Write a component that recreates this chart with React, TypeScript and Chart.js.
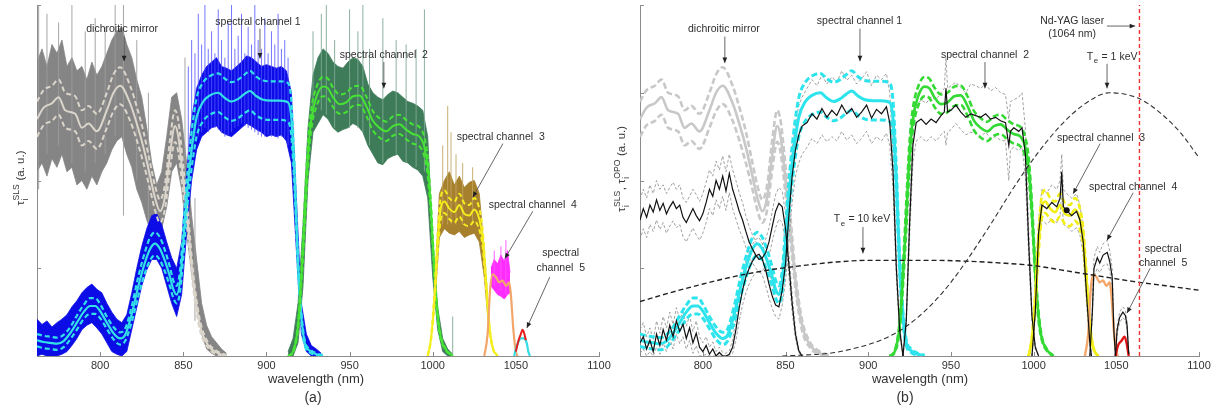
import React, { useEffect, useRef } from "react";
import { Chart, registerables } from "chart.js";

Chart.register(...registerables);

const FONT = '"Liberation Sans", Arial, Helvetica, sans-serif';
Chart.defaults.font.family = FONT;

// ---------------- axes ----------------
const X_MIN = 762;
const X_MAX = 1100;
const Y_MIN = 0;
const Y_MAX = 4;
const X_TICKS = [800, 850, 900, 950, 1000, 1050, 1100];
const Y_TICKS = [0, 1, 2, 3, 4];

// Nd-YAG laser line
const ND_YAG_X = [1064, 1064];
const ND_YAG_Y = [0, 4];

// ---------------- dichroic mirror (SLS) ----------------
const DM_X = [762, 766, 771, 775, 779, 785, 789, 793, 798, 804, 808, 812, 818, 822, 826, 830, 833, 836, 839, 842, 845, 847, 850, 853, 856, 860, 865, 870, 876];
const DM_MEAN = [2.7, 2.83, 2.88, 2.95, 2.8, 2.76, 2.6, 2.65, 2.56, 2.8, 3.0, 3.08, 2.88, 2.65, 2.38, 2.05, 1.8, 1.65, 1.82, 2.3, 2.62, 2.5, 2.0, 1.45, 0.85, 0.35, 0.12, 0.04, 0.0];
const DM_HI = [2.9, 3.03, 3.08, 3.15, 3.0, 2.96, 2.8, 2.85, 2.76, 3.0, 3.21, 3.29, 3.08, 2.84, 2.56, 2.2, 1.94, 1.78, 1.96, 2.47, 2.8, 2.68, 2.16, 1.58, 0.94, 0.41, 0.15, 0.06, 0.01];
const DM_LO = [2.5, 2.63, 2.68, 2.75, 2.6, 2.56, 2.4, 2.45, 2.36, 2.6, 2.79, 2.87, 2.68, 2.46, 2.2, 1.9, 1.66, 1.52, 1.68, 2.13, 2.44, 2.32, 1.84, 1.32, 0.76, 0.29, 0.09, 0.02, 0.0];

const DM_NOISE_X = [762, 765, 768, 771, 774, 777, 780, 783, 786, 789, 792, 795, 798, 801, 804, 807, 810, 813, 816, 819, 822, 825, 828, 831, 834, 837, 840, 843, 846, 849, 852, 855, 858, 861, 864, 867, 870, 873, 876];
const DM_NOISE_HI = [3.35, 3.5, 3.3, 3.55, 3.45, 3.6, 3.3, 3.4, 3.25, 3.3, 3.15, 3.35, 3.2, 3.3, 3.45, 3.6, 3.7, 3.75, 3.55, 3.4, 3.15, 2.95, 2.6, 2.2, 1.95, 2.1, 2.5, 2.95, 3.0, 2.7, 2.2, 1.6, 1.1, 0.6, 0.35, 0.22, 0.15, 0.08, 0.03];
const DM_NOISE_LO = [2.1, 2.2, 2.05, 2.25, 2.15, 2.3, 2.1, 2.15, 1.95, 2.0, 1.9, 2.05, 1.95, 2.1, 2.2, 2.35, 2.45, 2.5, 2.3, 2.15, 1.9, 1.75, 1.55, 1.4, 1.35, 1.45, 1.7, 2.1, 2.2, 1.9, 1.4, 0.95, 0.55, 0.25, 0.08, 0.03, 0.0, 0.0, 0.0];
const DM_SPK_X = [763, 768, 775, 783, 791, 797, 803, 809, 814, 822, 829, 851, 857];
const DM_SPK_LO = [1.9, 2.3, 2.4, 2.2, 2.1, 2.2, 2.3, 2.5, 1.6, 2.0, 1.5, 1.5, 0.4];
const DM_SPK_HI = [4.0, 3.9, 3.8, 4.0, 3.7, 3.85, 3.75, 4.0, 4.0, 3.6, 3.0, 3.4, 1.8];

// ---------------- spectral channel 1 (SLS, cyan) ----------------
const C1_X = [762, 766, 770, 774, 778, 782, 786, 790, 794, 797, 800, 804, 808, 812, 815, 819, 823, 827, 830, 833, 836, 839, 842, 844, 846, 848, 850, 852, 855, 858, 862, 866, 871, 875, 879, 883, 887, 890, 894, 898, 903, 908, 913, 915, 917, 919, 921, 923, 926, 930, 934];
const C1_MEAN = [0.18, 0.16, 0.15, 0.14, 0.17, 0.26, 0.38, 0.5, 0.57, 0.57, 0.51, 0.38, 0.26, 0.2, 0.24, 0.48, 0.8, 1.07, 1.22, 1.28, 1.22, 1.08, 0.9, 0.76, 0.7, 0.85, 1.3, 1.8, 2.35, 2.72, 2.9, 2.97, 3.0, 2.94, 2.9, 2.93, 2.99, 3.02, 2.96, 2.92, 2.91, 2.91, 2.89, 2.7, 2.0, 1.05, 0.45, 0.15, 0.06, 0.02, 0.0];
const C1_HI = [0.25, 0.23, 0.22, 0.21, 0.24, 0.33, 0.46, 0.58, 0.66, 0.66, 0.59, 0.45, 0.33, 0.27, 0.31, 0.57, 0.91, 1.19, 1.35, 1.41, 1.35, 1.2, 1.01, 0.86, 0.8, 0.97, 1.46, 1.98, 2.56, 2.94, 3.12, 3.19, 3.22, 3.16, 3.12, 3.15, 3.21, 3.25, 3.18, 3.14, 3.13, 3.13, 3.11, 2.9, 2.14, 1.13, 0.5, 0.18, 0.08, 0.03, 0.01];
const C1_LO = [0.11, 0.09, 0.08, 0.07, 0.1, 0.19, 0.3, 0.42, 0.48, 0.48, 0.43, 0.31, 0.19, 0.13, 0.17, 0.39, 0.69, 0.95, 1.09, 1.15, 1.09, 0.96, 0.79, 0.66, 0.6, 0.73, 1.14, 1.62, 2.14, 2.5, 2.68, 2.75, 2.78, 2.72, 2.68, 2.71, 2.77, 2.8, 2.74, 2.7, 2.69, 2.69, 2.67, 2.5, 1.86, 0.97, 0.4, 0.12, 0.04, 0.01, 0.0];

const C1_NOISE_X = [762, 765, 768, 771, 774, 777, 780, 783, 786, 789, 792, 795, 798, 801, 804, 807, 810, 813, 816, 819, 822, 825, 828, 831, 834, 837, 840, 843, 846, 849, 852, 855, 858, 861, 864, 867, 870, 873, 876, 879, 882, 885, 888, 891, 894, 897, 900, 903, 906, 909, 912, 915, 918, 921, 924, 927, 930, 933];
const C1_NOISE_HI = [0.42, 0.36, 0.4, 0.33, 0.38, 0.42, 0.47, 0.56, 0.63, 0.72, 0.78, 0.82, 0.76, 0.72, 0.6, 0.5, 0.42, 0.38, 0.47, 0.72, 1.0, 1.25, 1.45, 1.6, 1.62, 1.5, 1.3, 1.12, 1.0, 1.3, 2.1, 2.7, 3.05, 3.2, 3.3, 3.35, 3.4, 3.3, 3.28, 3.25, 3.3, 3.35, 3.42, 3.4, 3.35, 3.3, 3.32, 3.3, 3.28, 3.3, 3.25, 3.0, 1.8, 0.6, 0.25, 0.12, 0.08, 0.03];
const C1_NOISE_LO = [0.0, 0.02, 0.0, 0.0, 0.0, 0.02, 0.05, 0.12, 0.2, 0.3, 0.35, 0.38, 0.32, 0.25, 0.15, 0.05, 0.02, 0.0, 0.05, 0.3, 0.55, 0.8, 0.98, 1.1, 1.1, 1.0, 0.8, 0.6, 0.45, 0.7, 1.4, 2.0, 2.35, 2.5, 2.55, 2.6, 2.62, 2.55, 2.52, 2.5, 2.55, 2.6, 2.65, 2.62, 2.58, 2.55, 2.5, 2.52, 2.5, 2.52, 2.45, 2.2, 1.2, 0.25, 0.05, 0.0, 0.0, 0.0];
const C1_SPK_X = [853, 855, 857, 859, 861, 863, 865, 867, 869, 871, 873, 875, 877, 879, 881, 883, 885, 887, 889, 891, 893, 895, 897, 899, 901, 903, 905, 907, 909, 911, 913];
const C1_SPK_LO = [2.2, 2.4, 2.45, 2.5, 2.55, 2.6, 2.55, 2.6, 2.6, 2.58, 2.55, 2.5, 2.52, 2.55, 2.6, 2.62, 2.65, 2.62, 2.6, 2.58, 2.55, 2.52, 2.5, 2.5, 2.52, 2.5, 2.5, 2.48, 2.5, 2.48, 2.4];
const C1_SPK_HI = [3.3, 3.6, 3.45, 3.9, 3.55, 4.0, 3.5, 3.7, 3.45, 3.95, 3.6, 3.4, 3.8, 4.0, 3.5, 3.65, 3.9, 3.45, 3.75, 3.55, 4.0, 3.6, 3.5, 3.85, 3.45, 3.7, 3.55, 3.9, 3.5, 3.6, 3.4];

// ---------------- spectral channel 2 (SLS, green) ----------------
const C2_X = [913, 916, 919, 921, 923, 925, 927, 930, 934, 937, 940, 944, 948, 952, 956, 960, 964, 968, 972, 976, 980, 984, 988, 992, 995, 997, 999, 1001, 1003, 1005, 1008, 1012];
const C2_MEAN = [0.0, 0.05, 0.35, 0.9, 1.6, 2.3, 2.7, 2.95, 3.07, 3.05, 2.95, 2.87, 2.89, 2.96, 2.97, 2.85, 2.68, 2.6, 2.56, 2.62, 2.64, 2.58, 2.53, 2.5, 2.38, 2.15, 1.65, 0.95, 0.45, 0.2, 0.07, 0.0];
const C2_HI = [0.0, 0.06, 0.4, 1.0, 1.75, 2.45, 2.82, 3.06, 3.18, 3.16, 3.06, 2.98, 3.0, 3.07, 3.08, 2.96, 2.79, 2.71, 2.67, 2.73, 2.75, 2.69, 2.64, 2.61, 2.49, 2.26, 1.74, 1.02, 0.5, 0.22, 0.08, 0.0];
const C2_LO = [0.0, 0.04, 0.3, 0.8, 1.45, 2.15, 2.58, 2.84, 2.96, 2.94, 2.84, 2.76, 2.78, 2.85, 2.86, 2.74, 2.57, 2.49, 2.45, 2.51, 2.53, 2.47, 2.42, 2.39, 2.27, 2.04, 1.56, 0.88, 0.4, 0.18, 0.06, 0.0];

const C2_NOISE_X = [913, 916, 919, 922, 925, 928, 931, 934, 937, 940, 943, 946, 949, 952, 955, 958, 961, 964, 967, 970, 973, 976, 979, 982, 985, 988, 991, 994, 997, 1000, 1003, 1006, 1009, 1012];
const C2_NOISE_HI = [0.05, 0.2, 0.6, 1.5, 2.6, 3.2, 3.4, 3.5, 3.45, 3.35, 3.3, 3.28, 3.35, 3.4, 3.38, 3.3, 3.1, 3.0, 2.95, 2.92, 2.98, 3.02, 3.0, 2.95, 2.9, 2.88, 2.85, 2.8, 2.5, 1.3, 0.55, 0.2, 0.08, 0.02];
const C2_NOISE_LO = [0.0, 0.0, 0.15, 0.8, 2.0, 2.55, 2.65, 2.75, 2.7, 2.6, 2.55, 2.58, 2.6, 2.65, 2.62, 2.55, 2.4, 2.3, 2.2, 2.18, 2.25, 2.28, 2.3, 2.22, 2.2, 2.15, 2.12, 2.05, 1.8, 0.9, 0.3, 0.05, 0.0, 0.0];
const C2_SPK_X = [928, 933, 936, 941, 950, 955, 958, 962, 970, 978, 984, 990, 995, 1012];
const C2_SPK_LO = [2.7, 2.8, 2.75, 2.6, 2.6, 2.6, 2.55, 2.4, 2.2, 2.3, 2.2, 2.15, 2.1, 0.0];
const C2_SPK_HI = [3.7, 3.9, 4.0, 3.6, 3.95, 3.7, 4.0, 3.5, 3.85, 3.6, 3.55, 3.5, 3.95, 0.45];

// ---------------- spectral channel 3 (SLS, yellow) ----------------
const C3_X = [997, 999, 1001, 1003, 1005, 1007, 1010, 1013, 1016, 1019, 1022, 1025, 1028, 1030, 1032, 1034, 1036, 1039];
const C3_MEAN = [0.0, 0.2, 0.65, 1.3, 1.7, 1.76, 1.68, 1.64, 1.72, 1.62, 1.6, 1.67, 1.56, 1.35, 0.85, 0.35, 0.1, 0.0];
const C3_HI = [0.0, 0.22, 0.72, 1.42, 1.83, 1.89, 1.8, 1.76, 1.85, 1.74, 1.72, 1.8, 1.68, 1.45, 0.92, 0.38, 0.11, 0.0];
const C3_LO = [0.0, 0.18, 0.58, 1.18, 1.57, 1.63, 1.56, 1.52, 1.59, 1.5, 1.48, 1.54, 1.44, 1.25, 0.78, 0.32, 0.09, 0.0];

const C3_NOISE_X = [1001, 1004, 1007, 1010, 1013, 1016, 1019, 1022, 1025, 1028, 1031, 1034];
const C3_NOISE_HI = [0.7, 1.85, 2.0, 2.1, 1.95, 2.05, 1.92, 1.98, 2.0, 1.85, 1.2, 0.4];
const C3_NOISE_LO = [0.55, 1.35, 1.45, 1.4, 1.38, 1.42, 1.35, 1.38, 1.4, 1.3, 0.9, 0.25];
const C3_SPK_X = [1006, 1009, 1011, 1014, 1018, 1024];
const C3_SPK_LO = [1.5, 1.5, 1.5, 1.5, 1.5, 1.5];
const C3_SPK_HI = [2.4, 2.85, 2.55, 2.3, 2.2, 2.15];

// ---------------- spectral channel 4 (SLS, orange) ----------------
const C4_X = [1031, 1033, 1034.5, 1036, 1038, 1040, 1042, 1044, 1046, 1047, 1048.5, 1050, 1051];
const C4_MEAN = [0.0, 0.25, 0.75, 0.93, 0.9, 0.84, 0.86, 0.8, 0.84, 0.7, 0.3, 0.05, 0.0];
const C4_NOISE_X = [1035, 1037, 1039, 1041, 1043, 1045, 1046.5];
const C4_NOISE_HI = [1.0, 1.1, 1.05, 1.15, 1.08, 1.2, 0.95];
const C4_NOISE_LO = [0.8, 0.75, 0.7, 0.68, 0.65, 0.7, 0.72];
const C4_SPK_X = [1037, 1041, 1044];
const C4_SPK_LO = [0.8, 0.75, 0.7];
const C4_SPK_HI = [1.2, 1.25, 1.32];

// ---------------- spectral channel 5 ----------------
const C5A_X = [1049, 1050, 1051.5, 1053, 1055, 1056.5, 1057.5, 1058.5];
const C5A_CYAN = [0.0, 0.08, 0.16, 0.2, 0.2, 0.15, 0.05, 0.0];
const C5A_RED_X = [1050, 1051.5, 1053, 1054, 1055, 1056];
const C5A_RED = [0.05, 0.17, 0.25, 0.3, 0.26, 0.18];
const C5B_X = [1049.5, 1051, 1053, 1055, 1056.5, 1057.5];
const C5B_RED = [0.0, 0.12, 0.17, 0.22, 0.12, 0.0];

// ---------------- OPO measurements (panel b, black) ----------------
const OPO_DM_X = [762, 764, 766, 768, 770, 772, 774, 776, 778, 780, 782, 784, 786, 788, 790, 792, 794, 796, 798, 800, 802, 804, 806, 808, 810, 812, 814, 816, 818, 820, 822, 824, 826, 828, 830, 832, 834, 836, 838, 840, 842, 844, 846, 848, 850, 852, 854, 856, 858, 860];
const OPO_DM = [1.55, 1.68, 1.58, 1.72, 1.64, 1.78, 1.66, 1.74, 1.62, 1.7, 1.76, 1.68, 1.72, 1.58, 1.52, 1.6, 1.68, 1.6, 1.54, 1.62, 1.75, 1.9, 1.82, 2.0, 1.9, 2.05, 1.88, 2.08, 1.9, 1.78, 1.65, 1.55, 1.42, 1.3, 1.22, 1.15, 1.1, 1.12, 1.18, 1.3, 1.48, 1.65, 1.74, 1.7, 1.45, 1.05, 0.6, 0.25, 0.06, 0.0];
const OPO_DM_HI = [1.78, 1.9, 1.8, 1.95, 1.85, 2.0, 1.9, 1.95, 1.85, 1.92, 1.98, 1.9, 1.95, 1.8, 1.75, 1.82, 1.9, 1.84, 1.76, 1.85, 1.98, 2.12, 2.05, 2.22, 2.12, 2.28, 2.1, 2.3, 2.12, 2.0, 1.86, 1.75, 1.6, 1.48, 1.38, 1.3, 1.25, 1.27, 1.33, 1.46, 1.65, 1.84, 1.92, 1.88, 1.62, 1.18, 0.7, 0.3, 0.08, 0.0];
const OPO_DM_LO = [1.32, 1.45, 1.35, 1.5, 1.42, 1.55, 1.44, 1.52, 1.4, 1.48, 1.54, 1.46, 1.5, 1.36, 1.3, 1.38, 1.46, 1.38, 1.32, 1.4, 1.52, 1.68, 1.6, 1.78, 1.68, 1.82, 1.66, 1.86, 1.68, 1.56, 1.44, 1.35, 1.24, 1.12, 1.06, 1.0, 0.95, 0.97, 1.03, 1.14, 1.31, 1.46, 1.56, 1.52, 1.28, 0.92, 0.5, 0.2, 0.04, 0.0];

const OPO_C1_X = [762, 764, 766, 768, 770, 772, 774, 776, 778, 780, 782, 784, 786, 788, 790, 792, 794, 796, 798, 800, 802, 804, 806, 808, 810, 812, 814, 816, 818, 820, 822, 824, 826, 828, 830, 832, 834, 836, 838, 840, 842, 844, 846, 848, 850, 852, 854, 856, 858, 860, 863, 866, 869, 872, 875, 878, 881, 884, 887, 890, 893, 896, 899, 902, 905, 908, 911, 913, 915, 917, 919, 921];
const OPO_C1 = [0.15, 0.22, 0.08, 0.18, 0.05, 0.25, 0.12, 0.3, 0.18, 0.35, 0.22, 0.4, 0.28, 0.36, 0.2, 0.32, 0.15, 0.26, 0.1, 0.05, 0.12, 0.02, 0.08, 0.0, 0.04, 0.0, 0.0, 0.02, 0.1, 0.3, 0.55, 0.75, 0.9, 1.0, 1.08, 1.14, 1.16, 1.1, 0.98, 0.82, 0.68, 0.58, 0.56, 0.75, 1.05, 1.6, 2.05, 2.35, 2.52, 2.62, 2.66, 2.76, 2.7, 2.82, 2.72, 2.8, 2.74, 2.86, 2.76, 2.82, 2.72, 2.78, 2.86, 2.71, 2.81, 2.76, 2.84, 2.66, 2.1, 1.0, 0.3, 0.0];
const OPO_C1_HI = [0.3, 0.38, 0.22, 0.32, 0.18, 0.4, 0.26, 0.45, 0.32, 0.5, 0.36, 0.55, 0.42, 0.5, 0.34, 0.46, 0.28, 0.4, 0.22, 0.15, 0.22, 0.1, 0.16, 0.05, 0.1, 0.04, 0.03, 0.06, 0.18, 0.42, 0.7, 0.92, 1.08, 1.18, 1.27, 1.33, 1.35, 1.28, 1.15, 0.98, 0.82, 0.72, 0.7, 0.92, 1.25, 1.85, 2.35, 2.65, 2.85, 2.95, 3.05, 3.15, 3.08, 3.2, 3.1, 3.18, 3.12, 3.25, 3.14, 3.2, 3.1, 3.16, 3.24, 3.08, 3.2, 3.15, 3.22, 3.0, 2.3, 1.1, 0.35, 0.0];
const OPO_C1_LO = [0.03, 0.08, 0.0, 0.05, 0.0, 0.1, 0.02, 0.15, 0.05, 0.2, 0.08, 0.25, 0.14, 0.22, 0.08, 0.18, 0.03, 0.12, 0.0, 0.0, 0.02, 0.0, 0.0, 0.0, 0.0, 0.0, 0.0, 0.0, 0.03, 0.18, 0.4, 0.58, 0.72, 0.82, 0.9, 0.95, 0.97, 0.92, 0.8, 0.66, 0.54, 0.45, 0.42, 0.58, 0.85, 1.35, 1.75, 2.05, 2.2, 2.3, 2.38, 2.48, 2.42, 2.52, 2.44, 2.5, 2.45, 2.56, 2.46, 2.52, 2.42, 2.48, 2.56, 2.42, 2.5, 2.45, 2.54, 2.4, 1.9, 0.9, 0.25, 0.0];

const OPO_C2_X = [921, 923, 925, 927, 929, 932, 935, 938, 941, 944, 946, 947, 948, 950, 953, 956, 959, 962, 965, 968, 971, 974, 977, 980, 983, 985, 986, 988, 991, 993, 995, 997, 999, 1001, 1003];
const OPO_C2 = [0.0, 0.4, 1.5, 2.4, 2.66, 2.7, 2.64, 2.7, 2.66, 2.74, 2.78, 3.05, 2.78, 2.8, 2.86, 2.78, 2.72, 2.76, 2.74, 2.72, 2.76, 2.7, 2.72, 2.68, 2.66, 2.4, 2.56, 2.6, 2.56, 2.6, 2.3, 1.3, 0.45, 0.1, 0.0];
const OPO_C2_HI = [0.0, 0.45, 1.65, 2.6, 2.85, 2.92, 2.88, 2.95, 2.92, 3.0, 3.05, 3.4, 3.05, 3.08, 3.12, 3.06, 3.0, 3.1, 3.08, 3.05, 3.1, 3.02, 3.06, 3.0, 2.98, 2.7, 2.9, 2.92, 2.95, 3.0, 2.6, 1.45, 0.5, 0.12, 0.0];
const OPO_C2_LO = [0.0, 0.35, 1.35, 2.2, 2.45, 2.5, 2.44, 2.5, 2.45, 2.52, 2.56, 2.4, 2.55, 2.58, 2.65, 2.58, 2.52, 2.55, 2.54, 2.5, 2.55, 2.48, 2.5, 2.46, 2.45, 2.0, 2.35, 2.38, 2.34, 2.38, 2.05, 1.15, 0.4, 0.08, 0.0];

const OPO_C3_X = [999, 1001, 1003, 1005, 1008, 1011, 1014, 1016, 1017, 1018, 1020, 1023, 1026, 1028, 1030, 1032, 1034, 1035];
const OPO_C3 = [0.0, 0.5, 1.4, 1.72, 1.68, 1.75, 1.7, 1.8, 2.1, 1.7, 1.66, 1.6, 1.65, 1.55, 1.3, 0.7, 0.15, 0.0];
const OPO_C3_HI = [0.0, 0.55, 1.55, 1.9, 1.86, 1.95, 1.9, 2.0, 2.3, 1.9, 1.85, 1.8, 1.85, 1.72, 1.45, 0.8, 0.18, 0.0];
const OPO_C3_LO = [0.0, 0.45, 1.25, 1.55, 1.5, 1.56, 1.52, 1.6, 1.9, 1.5, 1.48, 1.42, 1.46, 1.38, 1.15, 0.6, 0.12, 0.0];
const OPO_DOT_X = [1020];
const OPO_DOT_Y = [1.66];

const OPO_C4_X = [1034, 1035.5, 1036.5, 1038.5, 1040, 1042, 1044.5, 1046, 1047.5, 1048.5, 1049.5];
const OPO_C4 = [0.0, 0.5, 1.0, 1.12, 1.06, 1.15, 1.18, 1.08, 0.9, 0.3, 0.0];
const OPO_C4_HI = [0.0, 0.55, 1.12, 1.25, 1.18, 1.28, 1.32, 1.2, 1.0, 0.35, 0.0];
const OPO_C4_LO = [0.0, 0.45, 0.9, 1.0, 0.95, 1.03, 1.05, 0.97, 0.8, 0.25, 0.0];

const OPO_C5_X = [1049.5, 1050.5, 1052, 1054, 1055.5, 1056.5, 1057.5];
const OPO_C5 = [0.0, 0.3, 0.44, 0.5, 0.46, 0.35, 0.02];
const OPO_C5_HI = [0.0, 0.34, 0.5, 0.56, 0.52, 0.4, 0.03];
const OPO_C5_LO = [0.0, 0.26, 0.38, 0.44, 0.4, 0.3, 0.01];

// ---------------- Thomson spectra ----------------
const TE10_X = [762, 780, 800, 820, 840, 860, 880, 900, 920, 940, 960, 980, 1000, 1020, 1040, 1060, 1080, 1100];
const TE10_Y = [0.62, 0.72, 0.82, 0.91, 0.98, 1.03, 1.07, 1.09, 1.09, 1.09, 1.08, 1.06, 1.03, 0.97, 0.91, 0.85, 0.8, 0.75];
const TE1_X = [848, 860, 870, 880, 890, 900, 910, 920, 930, 940, 950, 960, 974, 988, 1002, 1016, 1030, 1046, 1063, 1076, 1089, 1100];
const TE1_Y = [0.0, 0.01, 0.02, 0.04, 0.08, 0.13, 0.2, 0.3, 0.44, 0.62, 0.84, 1.1, 1.5, 1.92, 2.3, 2.62, 2.86, 3.0, 2.94, 2.78, 2.54, 2.26];

// ---------------- helpers ----------------
type Pt = { x: number; y: number | null };
const pts = (xs: number[], ys: number[]): Pt[] => xs.map((x, i) => ({ x, y: ys[i] }));
const spikes = (xs: number[], lo: number[], hi: number[]): Pt[] =>
  xs.flatMap((x, i) => [
    { x, y: lo[i] },
    { x, y: hi[i] },
    { x, y: null },
  ]);

function line(data: Pt[], color: string, width: number, extra: any = {}) {
  return {
    data,
    borderColor: color,
    backgroundColor: color,
    borderWidth: width,
    pointRadius: 0,
    pointHoverRadius: 0,
    fill: false,
    tension: 0,
    spanGaps: false,
    ...extra,
  };
}
const SMOOTH = { cubicInterpolationMode: "monotone", tension: 0.4 };
function band(xs: number[], hi: number[], lo: number[], color: string) {
  return [
    line(pts(xs, hi), color, 0.8, { fill: "+1", backgroundColor: color }),
    line(pts(xs, lo), color, 0.8),
  ];
}
function triple(xs: number[], mean: number[], hi: number[], lo: number[], color: string, w: number, dash: number[]) {
  return [
    line(pts(xs, hi), color, w, { ...SMOOTH, borderDash: dash }),
    line(pts(xs, lo), color, w, { ...SMOOTH, borderDash: dash }),
    line(pts(xs, mean), color, w, SMOOTH),
  ];
}
function opo(xs: number[], ys: number[], hi: number[], lo: number[]) {
  return {
    dashed: [
      line(pts(xs, hi), "#8a8a8a", 0.8, { borderDash: [3, 2] }),
      line(pts(xs, lo), "#8a8a8a", 0.8, { borderDash: [3, 2] }),
    ],
    solid: line(pts(xs, ys), "#111111", 1.2),
  };
}

type Seg = { t: string; sup?: string; sub?: string };
function richWidth(ctx: CanvasRenderingContext2D, segs: Seg[], size: number) {
  let w = 0;
  for (const s of segs) {
    ctx.font = `${size}px ${FONT}`;
    w += ctx.measureText(s.t).width;
    if (s.sup || s.sub) {
      ctx.font = `${size * 0.75}px ${FONT}`;
      w += Math.max(s.sup ? ctx.measureText(s.sup).width : 0, s.sub ? ctx.measureText(s.sub).width : 0) + 1;
    }
  }
  return w;
}
function drawRich(ctx: CanvasRenderingContext2D, segs: Seg[], x: number, y: number, size: number) {
  ctx.textAlign = "left";
  ctx.textBaseline = "alphabetic";
  for (const s of segs) {
    ctx.font = `${size}px ${FONT}`;
    ctx.fillText(s.t, x, y);
    x += ctx.measureText(s.t).width;
    if (s.sup || s.sub) {
      ctx.font = `${size * 0.75}px ${FONT}`;
      let w = 0;
      if (s.sup) {
        ctx.fillText(s.sup, x + 0.5, y - size * 0.45);
        w = ctx.measureText(s.sup).width;
      }
      if (s.sub) {
        ctx.fillText(s.sub, x + 0.5, y + size * 0.35);
        w = Math.max(w, ctx.measureText(s.sub).width);
      }
      x += w + 1;
    }
  }
}

type Ann = { lines: Seg[][]; x: number; y: number; gap?: number; arrow?: number[] };

const ANN_A: Ann[] = [
  { lines: [[{ t: "dichroitic mirror" }]], x: 813.2, y: 3.74, arrow: [814.4, 3.64, 814.4, 3.36] },
  { lines: [[{ t: "spectral channel 1" }]], x: 894.9, y: 3.82, arrow: [896.1, 3.73, 896.1, 3.39] },
  { lines: [[{ t: "spectral channel  2" }]], x: 970.6, y: 3.44, arrow: [970.6, 3.35, 970.6, 3.05] },
  { lines: [[{ t: "spectral channel  3" }]], x: 1040.9, y: 2.5, arrow: [1042.2, 2.42, 1024.1, 1.81] },
  { lines: [[{ t: "spectral channel  4" }]], x: 1060.2, y: 1.73, arrow: [1060.2, 1.65, 1043.4, 1.11] },
  { lines: [[{ t: "spectral" }], [{ t: "channel  5" }]], x: 1077, y: 1.18, gap: 15, arrow: [1070.4, 0.9, 1056.6, 0.32] },
];
const ANN_B: Ann[] = [
  { lines: [[{ t: "dichroitic mirror" }]], x: 812.7, y: 3.74, arrow: [813.3, 3.64, 813.3, 3.34] },
  { lines: [[{ t: "spectral channel 1" }]], x: 894.7, y: 3.83, arrow: [895, 3.73, 895, 3.36] },
  { lines: [[{ t: "spectral channel  2" }]], x: 970.6, y: 3.44, arrow: [970.6, 3.35, 970.6, 3.05] },
  { lines: [[{ t: "Nd-YAG laser" }], [{ t: "(1064 nm)" }]], x: 1023.3, y: 3.83, gap: 13, arrow: [1044.4, 3.76, 1061.4, 3.76] },
  { lines: [[{ t: "T", sub: "e" }, { t: " = 1 keV" }]], x: 1047.5, y: 3.42, arrow: [1044.4, 3.33, 1044.4, 3.05] },
  { lines: [[{ t: "spectral channel  3" }]], x: 1040.8, y: 2.49, arrow: [1040.2, 2.42, 1023.9, 1.85] },
  { lines: [[{ t: "spectral channel  4" }]], x: 1060.2, y: 1.94, arrow: [1060.2, 1.86, 1044.4, 1.32] },
  { lines: [[{ t: "spectral" }], [{ t: "channel  5" }]], x: 1078.3, y: 1.23, gap: 14, arrow: [1070.5, 1.0, 1056.5, 0.49] },
  { lines: [[{ t: "T", sub: "e" }, { t: " = 10 keV" }]], x: 896.2, y: 1.57, arrow: [896.8, 1.47, 896.8, 1.17] },
];

type PanelOpts = {
  yAxisWidth: number;
  anns: Ann[];
  yLabel: Seg[];
  yLabelX: number;
  yLabelY: number;
  xTitleX: number;
  panelLabel: string;
  panelX: number;
};

function overlay(o: PanelOpts) {
  return {
    id: "overlay",
    beforeDatasetsDraw(chart: any) {
      const { ctx, chartArea: a, scales } = chart;
      const x = scales.x;
      const y = scales.y;
      ctx.save();
      ctx.strokeStyle = "#8c8c8c";
      ctx.lineWidth = 1;
      ctx.beginPath();
      ctx.moveTo(a.left + 0.5, a.top);
      ctx.lineTo(a.left + 0.5, a.bottom + 0.5);
      ctx.lineTo(a.right + 1, a.bottom + 0.5);
      for (const v of X_TICKS) {
        const px = Math.round(x.getPixelForValue(v)) + 0.5;
        ctx.moveTo(px, a.bottom);
        ctx.lineTo(px, a.bottom - 4);
      }
      for (const v of Y_TICKS) {
        const py = Math.round(y.getPixelForValue(v)) + 0.5;
        ctx.moveTo(a.left, py);
        ctx.lineTo(a.left + 4, py);
      }
      ctx.stroke();
      ctx.restore();
    },
    afterDatasetsDraw(chart: any) {
      const { ctx, scales } = chart;
      const x = scales.x;
      const y = scales.y;
      ctx.save();
      const size = 10.5;
      for (const an of o.anns) {
        const cx = x.getPixelForValue(an.x);
        let cy = y.getPixelForValue(an.y);
        ctx.fillStyle = "#2e2e2e";
        for (const ln of an.lines) {
          const w = richWidth(ctx, ln, size);
          drawRich(ctx, ln, cx - w / 2, cy + size * 0.36, size);
          cy += an.gap || 14;
        }
        if (an.arrow) {
          const x1 = x.getPixelForValue(an.arrow[0]);
          const y1 = y.getPixelForValue(an.arrow[1]);
          const x2 = x.getPixelForValue(an.arrow[2]);
          const y2 = y.getPixelForValue(an.arrow[3]);
          ctx.strokeStyle = "#555";
          ctx.lineWidth = 0.9;
          ctx.beginPath();
          ctx.moveTo(x1, y1);
          ctx.lineTo(x2, y2);
          ctx.stroke();
          const ang = Math.atan2(y2 - y1, x2 - x1);
          const L = 5.5;
          const H = 2.4;
          ctx.fillStyle = "#222";
          ctx.beginPath();
          ctx.moveTo(x2, y2);
          ctx.lineTo(x2 - L * Math.cos(ang) + H * Math.sin(ang), y2 - L * Math.sin(ang) - H * Math.cos(ang));
          ctx.lineTo(x2 - L * Math.cos(ang) - H * Math.sin(ang), y2 - L * Math.sin(ang) + H * Math.cos(ang));
          ctx.closePath();
          ctx.fill();
        }
      }
      ctx.restore();
    },
    afterDraw(chart: any) {
      const { ctx } = chart;
      ctx.save();
      ctx.fillStyle = "#333";
      ctx.textAlign = "center";
      ctx.textBaseline = "middle";
      ctx.font = `13px ${FONT}`;
      ctx.fillText("wavelength (nm)", o.xTitleX, 379);
      ctx.font = `14px ${FONT}`;
      ctx.fillText(o.panelLabel, o.panelX, 398);
      // y label (rotated)
      ctx.translate(o.yLabelX, o.yLabelY);
      ctx.rotate(-Math.PI / 2);
      const size = 11.5;
      const w = richWidth(ctx, o.yLabel, size);
      drawRich(ctx, o.yLabel, -w / 2, 0, size);
      ctx.restore();
    },
  };
}

function makeConfig(datasets: any[], o: PanelOpts, padRight: number) {
  const N = datasets.length;
  datasets.forEach((d, i) => {
    d.order = N - i;
  });
  return {
    type: "line",
    data: { datasets },
    options: {
      animation: false,
      responsive: false,
      maintainAspectRatio: false,
      events: [],
      layout: { padding: { top: 5, right: padRight, left: 0, bottom: 0 } },
      plugins: { legend: { display: false }, tooltip: { enabled: false } },
      scales: {
        x: {
          type: "linear",
          min: X_MIN,
          max: X_MAX,
          afterBuildTicks: (s: any) => {
            s.ticks = X_TICKS.map((v) => ({ value: v }));
          },
          afterFit: (s: any) => {
            s.height = 54;
          },
          grid: { display: false, drawTicks: false },
          border: { display: false },
          ticks: {
            padding: 3,
            autoSkip: false,
            maxRotation: 0,
            color: "#333",
            font: { size: 11, family: FONT },
            callback: (v: any) => String(v),
          },
        },
        y: {
          type: "linear",
          min: Y_MIN,
          max: Y_MAX,
          afterBuildTicks: (s: any) => {
            s.ticks = Y_TICKS.map((v) => ({ value: v }));
          },
          afterFit: (s: any) => {
            s.width = o.yAxisWidth;
          },
          grid: { display: false, drawTicks: false },
          border: { display: false },
          ticks: { display: false },
        },
      },
    },
    plugins: [overlay(o)],
  } as any;
}

function buildA() {
  const ds: any[] = [
    ...band(DM_NOISE_X, DM_NOISE_HI, DM_NOISE_LO, "#858585"),
    line(spikes(DM_SPK_X, DM_SPK_LO, DM_SPK_HI), "#9c9c9c", 0.9),
    ...band(C1_NOISE_X, C1_NOISE_HI, C1_NOISE_LO, "#0c0ce6"),
    line(spikes(C1_SPK_X, C1_SPK_LO, C1_SPK_HI), "#5050ff", 0.8),
    ...band(C2_NOISE_X, C2_NOISE_HI, C2_NOISE_LO, "#3d7b59"),
    line(spikes(C2_SPK_X, C2_SPK_LO, C2_SPK_HI), "#7fa893", 0.9),
    ...band(C3_NOISE_X, C3_NOISE_HI, C3_NOISE_LO, "#a6802c"),
    line(spikes(C3_SPK_X, C3_SPK_LO, C3_SPK_HI), "#c4a564", 0.9),
    ...band(C4_NOISE_X, C4_NOISE_HI, C4_NOISE_LO, "#ff2cff"),
    line(spikes(C4_SPK_X, C4_SPK_LO, C4_SPK_HI), "#ff50ff", 0.9),
    ...triple(DM_X, DM_MEAN, DM_HI, DM_LO, "#dbd5cb", 2, [5, 3]),
    ...triple(C1_X, C1_MEAN, C1_HI, C1_LO, "#34e0e8", 2.2, [5, 3]),
    ...triple(C2_X, C2_MEAN, C2_HI, C2_LO, "#46e234", 2, [5, 3]),
    ...triple(C3_X, C3_MEAN, C3_HI, C3_LO, "#f4ee1e", 2, [5, 3]),
    line(pts(C4_X, C4_MEAN), "#f2a66a", 2.2, SMOOTH),
    line(pts(C5A_X, C5A_CYAN), "#34dce6", 2.2, SMOOTH),
    line(pts(C5A_RED_X, C5A_RED), "#e81c1c", 2, SMOOTH),
  ];
  return makeConfig(
    ds,
    {
      yAxisWidth: 37,
      anns: ANN_A,
      yLabel: [{ t: "τ", sup: "SLS", sub: "i" }, { t: " (a. u.)" }],
      yLabelX: 24,
      yLabelY: 178,
      xTitleX: 316,
      panelLabel: "(a)",
      panelX: 313,
    },
    16
  );
}

function buildB() {
  const dm = opo(OPO_DM_X, OPO_DM, OPO_DM_HI, OPO_DM_LO);
  const c1 = opo(OPO_C1_X, OPO_C1, OPO_C1_HI, OPO_C1_LO);
  const c2 = opo(OPO_C2_X, OPO_C2, OPO_C2_HI, OPO_C2_LO);
  const c3 = opo(OPO_C3_X, OPO_C3, OPO_C3_HI, OPO_C3_LO);
  const c4 = opo(OPO_C4_X, OPO_C4, OPO_C4_HI, OPO_C4_LO);
  const c5 = opo(OPO_C5_X, OPO_C5, OPO_C5_HI, OPO_C5_LO);
  const ds: any[] = [
    ...triple(DM_X, DM_MEAN, DM_HI, DM_LO, "#c8c8c8", 2.6, [6, 3]),
    ...dm.dashed,
    ...c1.dashed,
    ...c2.dashed,
    ...c3.dashed,
    ...c4.dashed,
    ...c5.dashed,
    ...triple(C1_X, C1_MEAN, C1_HI, C1_LO, "#2ee4ec", 3, [6, 3]),
    ...triple(C2_X, C2_MEAN, C2_HI, C2_LO, "#34d934", 2.6, [6, 3]),
    ...triple(C3_X, C3_MEAN, C3_HI, C3_LO, "#f2ee18", 2.6, [6, 3]),
    line(pts(C4_X, C4_MEAN), "#f4a86c", 2.4, SMOOTH),
    line(pts(C5B_X, C5B_RED), "#e01414", 2.4, SMOOTH),
    line(pts(TE10_X, TE10_Y), "#222", 1.4, { ...SMOOTH, borderDash: [5, 3] }),
    line(pts(TE1_X, TE1_Y), "#333", 1.1, { ...SMOOTH, borderDash: [5, 3] }),
    dm.solid,
    c1.solid,
    c2.solid,
    c3.solid,
    c4.solid,
    c5.solid,
    line(pts(OPO_DOT_X, OPO_DOT_Y), "#111", 0, { showLine: false, pointRadius: 3, pointBackgroundColor: "#111", pointBorderWidth: 0 }),
    line(pts(ND_YAG_X, ND_YAG_Y), "#f03434", 1.4, { borderDash: [4, 3] }),
  ];
  return makeConfig(
    ds,
    {
      yAxisWidth: 40,
      anns: ANN_B,
      yLabel: [
        { t: "τ", sup: "SLS", sub: "i" },
        { t: ", τ", sup: "OPO", sub: "i" },
        { t: " (a. u.)" },
      ],
      yLabelX: 25,
      yLabelY: 169,
      xTitleX: 320,
      panelLabel: "(b)",
      panelX: 305,
    },
    16
  );
}

function Panel({ left, build }: { left: number; build: () => any }) {
  const ref = useRef<HTMLCanvasElement>(null);
  useEffect(() => {
    const chart = new Chart(ref.current as HTMLCanvasElement, build());
    return () => chart.destroy();
  }, []);
  return (
    <canvas
      ref={ref}
      width={615}
      height={410}
      style={{ position: "absolute", left, top: 0, width: 615, height: 410 }}
    />
  );
}

export default function App() {
  return (
    <div style={{ position: "fixed", left: 0, top: 0, width: 1215, height: 410, background: "#fff", overflow: "hidden" }}>
      <Panel left={0} build={buildA} />
      <Panel left={600} build={buildB} />
    </div>
  );
}
